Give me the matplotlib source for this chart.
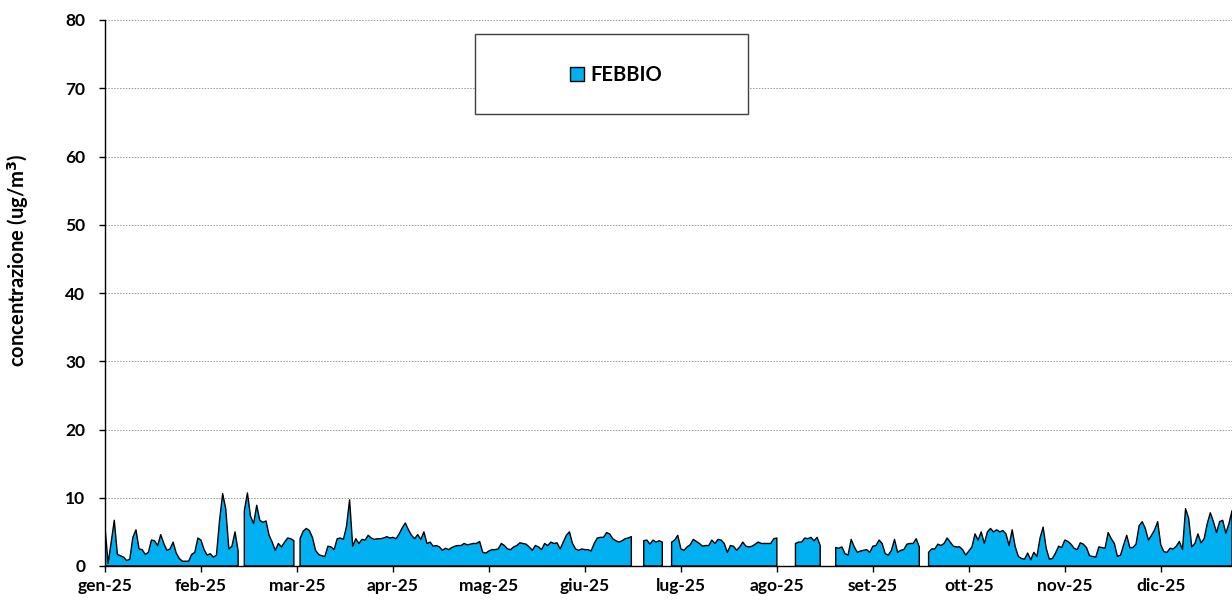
import numpy as np
import matplotlib
matplotlib.use("Agg")
import matplotlib.pyplot as plt
from matplotlib.patches import Patch, Rectangle

N = None
# daily values (ug/m3), one list per month, None = missing day
gen = [5.7, 0.4, 3.5, 6.7, 1.7, 1.5, 1.3, 0.8, 1.0, 4.2, 5.3, 2.5, 2.4, 1.7, 2.0, 3.8,
       3.7, 3.0, 4.6, 3.3, 2.3, 2.5, 3.5, 1.9, 1.1, 0.7, 0.7, 0.7, 1.7, 2.0, 4.1]
feb = [3.8, 2.4, 1.6, 1.8, 1.3, 1.6, 6.7, 10.6, 8.4, 2.5, 2.9, 5.0, 2.2, N, 8.1, 10.7,
       7.3, 6.2, 8.9, 6.7, 6.4, 6.6, 4.5, 3.5, 2.3, 3.3, 2.8, 3.5]
mar = [4.1, 4.0, 3.7, N, 4.0, 5.1, 5.5, 5.2, 4.2, 2.3, 1.7, 1.5, 1.4, 2.9, 2.8, 2.4,
       4.0, 4.1, 3.9, 5.8, 9.7, 2.9, 4.0, 3.3, 3.9, 3.8, 4.5, 4.1, 3.9, 4.0, 4.0]
apr = [4.1, 4.3, 4.1, 4.2, 4.0, 4.7, 5.6, 6.3, 5.3, 4.5, 4.0, 4.6, 3.9, 5.0, 3.3, 3.5,
       2.9, 3.0, 2.8, 2.3, 2.6, 2.4, 2.7, 2.9, 3.0, 3.0, 3.3, 3.1, 3.2, 3.3]
mag = [3.3, 3.6, 2.0, 1.9, 2.2, 2.4, 2.4, 2.5, 3.3, 3.0, 2.5, 2.4, 2.8, 3.0, 3.4, 3.3,
       3.2, 2.8, 2.3, 3.0, 2.8, 2.4, 3.3, 3.0, 3.5, 3.3, 3.4, 2.5, 3.5, 4.5, 5.0]
giu = [3.3, 2.5, 2.3, 2.5, 2.4, 2.4, 2.2, 3.3, 4.1, 4.2, 4.2, 4.9, 4.7, 4.0, 3.7, 3.5,
       3.7, 4.0, 4.1, 4.3, N, N, N, 3.7, 3.8, 3.2, 3.8, 3.5, 3.7, 3.5]
lug = [N, N, 3.5, 3.8, 4.5, 2.5, 2.3, 2.8, 3.1, 3.9, 3.6, 3.3, 2.9, 3.0, 3.0, 3.8,
       3.3, 3.9, 3.8, 3.3, 2.0, 3.0, 2.9, 2.3, 2.8, 3.5, 2.9, 2.8, 2.9, 3.2, 3.5]
ago = [3.3, 3.3, 3.3, 3.3, 4.0, 4.1, N, N, N, N, N, 3.3, 3.5, 3.5, 4.1, 4.0,
       4.2, 3.7, 4.2, 3.0, N, N, N, N, 2.7, 2.6, 2.8, 1.8, 1.6, 3.9, 2.8]
set_ = [2.0, 2.2, 2.3, 2.4, 2.0, 2.9, 3.0, 3.8, 3.3, 1.8, 1.6, 2.3, 3.9, 2.0, 2.3, 2.4,
        3.2, 3.3, 3.3, 4.0, 2.8, N, N, 2.0, 2.5, 2.5, 3.2, 3.0, 3.3, 4.1]
ott = [3.5, 2.9, 2.8, 2.8, 2.4, 1.6, 2.2, 2.8, 4.7, 3.8, 5.0, 3.3, 5.0, 5.5, 5.0, 5.3,
       5.0, 5.2, 4.7, 3.0, 5.3, 2.8, 1.4, 1.1, 1.0, 1.9, 0.9, 2.0, 1.4, 4.1, 5.7]
nov = [2.6, 1.0, 1.1, 1.9, 2.9, 2.7, 3.8, 3.6, 3.2, 2.6, 2.4, 3.4, 3.2, 2.7, 1.5, 1.4,
       1.3, 2.8, 2.7, 2.6, 4.9, 4.0, 3.3, 1.4, 1.6, 3.1, 4.5, 2.7, 2.7, 3.2]
dic = [5.9, 6.5, 5.5, 3.8, 4.5, 5.3, 6.5, 3.1, 2.1, 2.0, 2.6, 2.5, 2.9, 3.6, 2.4, 8.4,
       7.0, 2.8, 3.3, 4.7, 3.4, 4.0, 6.2, 7.8, 6.5, 4.9, 6.5, 6.7, 4.8, 6.2, 8.1]

tick_labels = ["gen-25", "feb-25", "mar-25", "apr-25", "mag-25", "giu-25",
               "lug-25", "ago-25", "set-25", "ott-25", "nov-25", "dic-25"]
series_name = "FEBBIO"

values = np.array(gen + feb + mar + apr + mag + giu + lug + ago + set_ + ott + nov + dic,
                  dtype=float)
x = np.arange(len(values))

plt.rcParams['font.family'] = ['Lato', 'DejaVu Sans']
plt.rcParams['font.weight'] = 'bold'

W, H = 1232, 603
fig = plt.figure(figsize=(W / 100, H / 100), dpi=100)
fig.patch.set_facecolor('white')
ax = fig.add_axes([105 / W, (H - 566) / H, (1232 - 105) / W, (566 - 20) / H])

ax.fill_between(x, 0, values, facecolor='#00B0F0', edgecolor='black',
                linewidth=1.0, zorder=3)

ax.set_xlim(0, len(values) - 1)
ax.set_ylim(0, 80)
ax.set_yticks(np.arange(0, 81, 10))
ax.set_xticks(np.arange(len(tick_labels)) * 31)
ax.set_xticklabels(tick_labels)

for s in ['top', 'right']:
    ax.spines[s].set_visible(False)
for s in ['left', 'bottom']:
    ax.spines[s].set_color('black')
    ax.spines[s].set_linewidth(1.0)
    ax.spines[s].set_zorder(4)

ax.yaxis.grid(True, color='#999999', linestyle=(0, (1.5, 1.5)), linewidth=0.7, zorder=0)
ax.xaxis.grid(False)
ax.tick_params(axis='both', direction='out', length=4.3, width=1, color='black',
               labelsize=12.5)
ax.tick_params(axis='y', pad=10)
ax.tick_params(axis='x', pad=4)
for lab in ax.get_xticklabels() + ax.get_yticklabels():
    lab.set_fontweight('bold')

ax.set_ylabel("concentrazione (ug/m$^3$)", fontsize=14.5, fontweight='bold')
ax.yaxis.label.set_verticalalignment('center')
ax.yaxis.set_label_coords(-(105 - 18) / (1232 - 105), (566 - 260) / (566 - 20))

# legend box
fig.patches.append(Rectangle((475 / W, (H - 114) / H), (748 - 475) / W, (114 - 34) / H,
                             transform=fig.transFigure, facecolor='white',
                             edgecolor='#404040', linewidth=1.0, zorder=5))
leg = fig.legend(handles=[Patch(facecolor='#00B0F0', edgecolor='black', linewidth=1.0)],
                 labels=[series_name], loc='center',
                 bbox_to_anchor=(616 / W, (H - 75) / H), frameon=False,
                 handlelength=0.7, handleheight=0.7, handletextpad=0.3,
                 prop={'weight': 'bold', 'size': 14.5})
leg.set_zorder(6)

fig.savefig("out.png", dpi=100, facecolor='white')
